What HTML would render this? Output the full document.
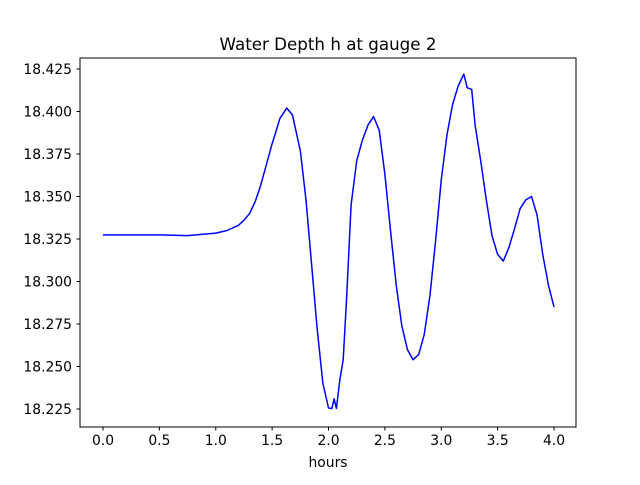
<!DOCTYPE html>
<html><head><meta charset="utf-8"><style>
body{margin:0;background:#fff;}
svg text{font-family:"DejaVu Sans","Liberation Sans",sans-serif;}
</style></head><body>
<svg id="chart" width="640" height="480" xmlns="http://www.w3.org/2000/svg">
<rect width="640" height="480" fill="#fff"/>
<text x="328" y="50" text-anchor="middle" font-size="16.7">Water Depth h at gauge 2</text>
<g id="xticks"></g>
<g id="yticks"></g>
<path id="line" fill="none" stroke="#0000ff" stroke-width="1.5" stroke-linejoin="round"/>
<rect x="80" y="58" width="496" height="369" fill="none" stroke="#000" stroke-width="1"/>
<text x="328" y="467" text-anchor="middle" font-size="13.9">hours</text>
</svg>
<script>
const hours=[0,0.5,0.75,1.0,1.1,1.2,1.25,1.3,1.35,1.4,1.45,1.5,1.57,1.63,1.68,1.75,1.8,1.85,1.9,1.95,2.0,2.03,2.05,2.07,2.1,2.13,2.16,2.2,2.25,2.3,2.35,2.4,2.45,2.5,2.55,2.6,2.65,2.7,2.75,2.8,2.85,2.9,2.95,3.0,3.05,3.1,3.15,3.2,3.23,3.27,3.3,3.35,3.4,3.45,3.5,3.55,3.6,3.65,3.7,3.75,3.8,3.85,3.9,3.95,4.0];
const depth=[18.3274,18.3274,18.327,18.3285,18.330,18.333,18.336,18.340,18.347,18.357,18.369,18.381,18.396,18.402,18.398,18.377,18.348,18.310,18.272,18.240,18.2256,18.2253,18.231,18.2253,18.242,18.254,18.289,18.345,18.371,18.383,18.392,18.397,18.389,18.363,18.330,18.298,18.274,18.260,18.254,18.257,18.269,18.292,18.324,18.360,18.386,18.404,18.415,18.422,18.414,18.413,18.392,18.371,18.348,18.327,18.316,18.312,18.320,18.331,18.343,18.348,18.350,18.339,18.316,18.298,18.285];
const xTicks=[0,0.5,1,1.5,2,2.5,3,3.5,4];
const xTickLabels=["0.0","0.5","1.0","1.5","2.0","2.5","3.0","3.5","4.0"];
const yTicks=[18.225,18.25,18.275,18.3,18.325,18.35,18.375,18.4,18.425];
const yTickLabels=["18.225","18.250","18.275","18.300","18.325","18.350","18.375","18.400","18.425"];
const NS="http://www.w3.org/2000/svg";
const X=v=>103+v*112.75;
const Y=v=>409-(v-18.225)*1700;
let d="";
hours.forEach((h,i)=>{d+=(i?"L":"M")+X(h).toFixed(1)+","+Y(depth[i]).toFixed(1);});
document.getElementById("line").setAttribute("d",d);
const xg=document.getElementById("xticks");
xTicks.forEach((t,i)=>{
 const l=document.createElementNS(NS,"line");
 
 
 l.setAttribute("x1",X(t));l.setAttribute("x2",X(t));l.setAttribute("y1",427);l.setAttribute("y2",430.5);l.setAttribute("stroke","#000");
 xg.appendChild(l);
 const tx=document.createElementNS(NS,"text");
 
 
 tx.setAttribute("x",X(t));tx.setAttribute("y",445);tx.setAttribute("text-anchor","middle");tx.setAttribute("font-size","13.9");
 tx.textContent=xTickLabels[i];xg.appendChild(tx);
});
const yg=document.getElementById("yticks");
yTicks.forEach((t,i)=>{
 const l=document.createElementNS(NS,"line");
 
 
 l.setAttribute("x1",76.5);l.setAttribute("x2",80);l.setAttribute("y1",Y(t));l.setAttribute("y2",Y(t));l.setAttribute("stroke","#000");
 yg.appendChild(l);
 const tx=document.createElementNS(NS,"text");
 
 
 tx.setAttribute("x",72);tx.setAttribute("y",Y(t)+5);tx.setAttribute("text-anchor","end");tx.setAttribute("font-size","13.9");
 tx.textContent=yTickLabels[i];yg.appendChild(tx);
});
</script>
</body></html>
